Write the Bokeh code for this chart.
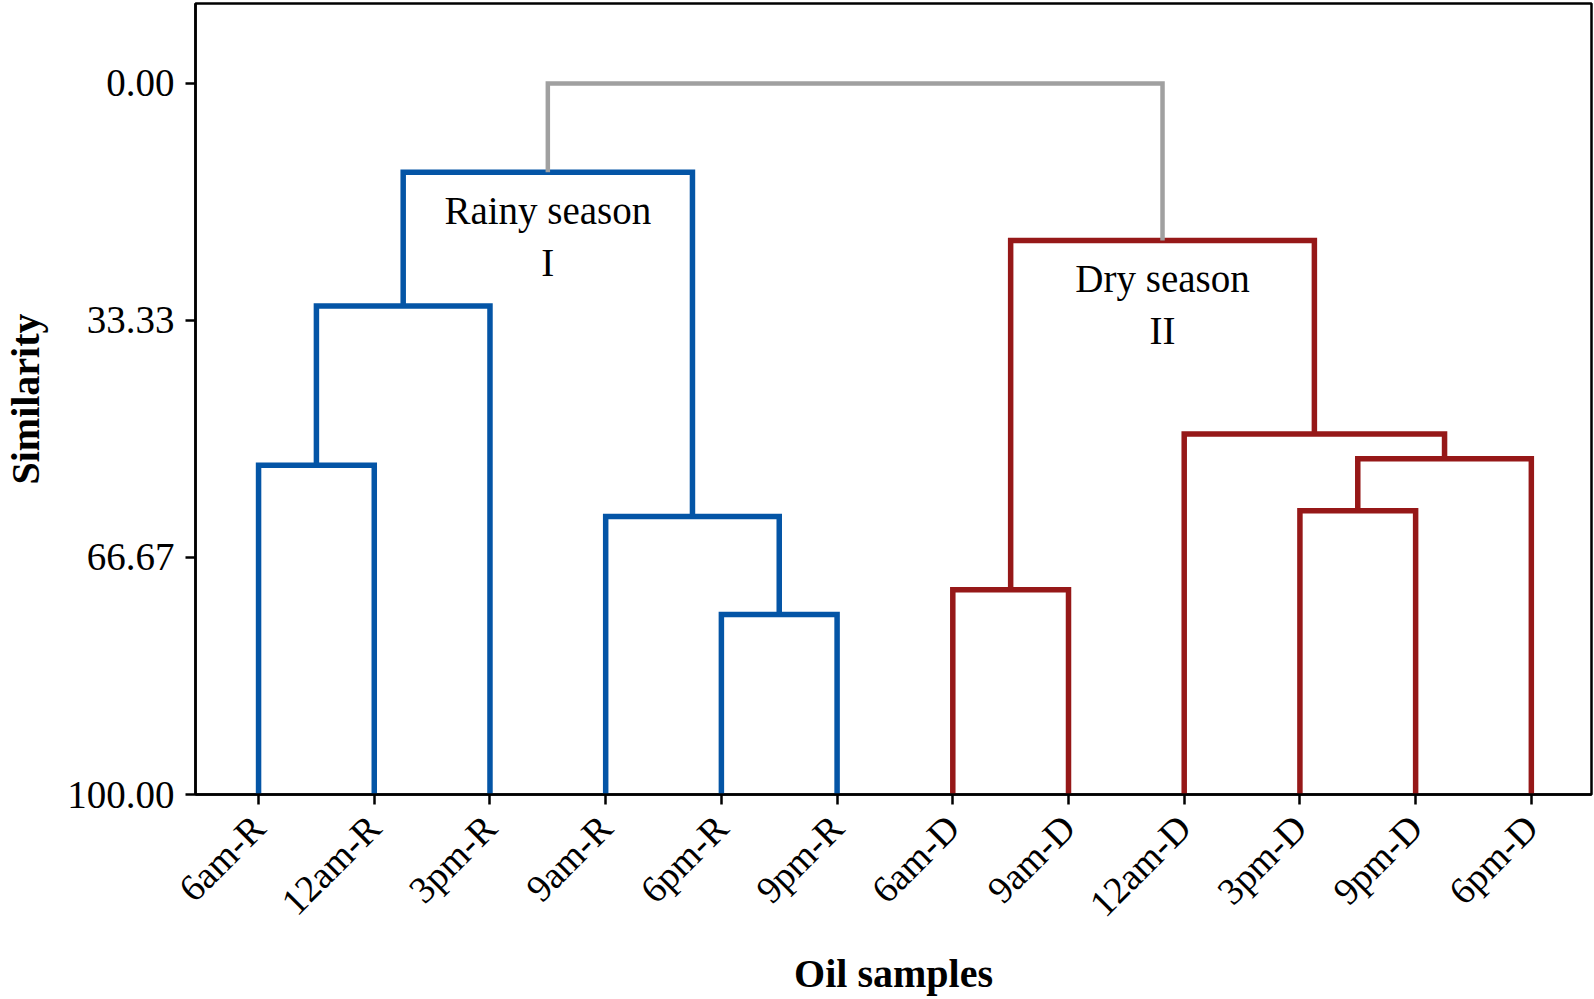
import math
from bokeh.plotting import figure
from bokeh.models import Range1d, FixedTicker, ColumnDataSource
from bokeh.core.properties import value
from bokeh.embed import file_html
from bokeh.resources import INLINE

# ---------------- data ----------------
samples = ["6am-R", "12am-R", "3pm-R", "9am-R", "6pm-R", "9pm-R",
           "6am-D", "9am-D", "12am-D", "3pm-D", "9pm-D", "6pm-D"]
# linkage: node ids 0..11 are leaves, 12.. are clusters in merge order
merge_left = [0, 12, 4, 3, 13, 6, 9, 18, 8, 17, 16]
merge_right = [1, 2, 5, 14, 15, 7, 10, 11, 19, 20, 21]
merge_height = [53.7, 31.3, 74.7, 60.9, 12.5, 71.2, 60.1, 52.8, 49.3, 22.1, 0.0]
merge_group = ["rainy"] * 5 + ["dry"] * 5 + ["root"]
y_ticks = [0, 33.33, 66.67, 100]
y_tick_labels = ["0.00", "33.33", "66.67", "100.00"]
cluster_names = ["Rainy season", "I", "Dry season", "II"]
cluster_nodes = [16, 16, 21, 21]
cluster_line = [0, 1, 0, 1]

# ---------------- build geometry from linkage ----------------
group_color = {"rainy": "#0455A6", "dry": "#961818", "root": "#A0A0A0"}
group_width = {"rainy": 5.5, "dry": 5.5, "root": 4.5}

n = len(samples)
node_x = {i: float(i) for i in range(n)}
node_h = {i: 100.0 for i in range(n)}
xs, ys, cols, wids = [], [], [], []
for k, (a, b, h, g) in enumerate(zip(merge_left, merge_right, merge_height, merge_group)):
    nid = n + k
    node_x[nid] = (node_x[a] + node_x[b]) / 2.0
    node_h[nid] = h
    xs.append([node_x[a], node_x[a], node_x[b], node_x[b]])
    ys.append([node_h[a], h, h, node_h[b]])
    cols.append(group_color[g])
    wids.append(group_width[g])

p = figure(width=1594, height=999,
           x_range=Range1d(-0.545, 11.52), y_range=Range1d(100, -11.24),
           output_backend="svg", toolbar_location=None,
           min_border_left=150, min_border_right=3,
           min_border_top=3, min_border_bottom=204)

p.multi_line(xs=xs, ys=ys, line_color=cols, line_width=wids,
             line_join="miter", line_cap="butt")

offsets = [38, 90]
txt = ColumnDataSource(dict(
    x=[node_x[c] for c in cluster_nodes],
    y=[node_h[c] for c in cluster_nodes],
    text=cluster_names,
    off=[offsets[l] for l in cluster_line],
))
p.text(x="x", y="y", text="text", y_offset="off", source=txt,
       text_font=value("Liberation Serif"), text_font_size=value("39px"),
       text_align="center", text_baseline="alphabetic", text_color="black")

# ---------------- styling ----------------
p.grid.visible = False
p.outline_line_color = "black"
p.outline_line_width = 2.5
p.background_fill_color = "white"
p.border_fill_color = "white"

for ax in (p.xaxis[0], p.yaxis[0]):
    ax.axis_line_color = "black"
    ax.axis_line_width = 2.5
    ax.major_tick_line_color = "black"
    ax.major_tick_line_width = 2.5
    ax.major_tick_out = 10
    ax.major_tick_in = 0
    ax.minor_tick_line_color = None
    ax.major_label_text_font = "Liberation Serif"
    ax.major_label_text_color = "black"
    ax.axis_label_text_font = "Liberation Serif"
    ax.axis_label_text_font_size = "40px"
    ax.axis_label_text_font_style = "bold"
    ax.axis_label_text_color = "black"

p.xaxis.ticker = FixedTicker(ticks=list(range(n)))
p.xaxis.major_label_overrides = {i: s for i, s in enumerate(samples)}
p.xaxis.major_label_orientation = math.pi / 4
p.xaxis.major_label_text_font_size = "38px"
p.xaxis.major_label_standoff = 17
p.xaxis.axis_label = "Oil samples"
p.xaxis.axis_label_standoff = 9

p.yaxis.ticker = FixedTicker(ticks=y_ticks)
p.yaxis.major_label_overrides = {t: l for t, l in zip(y_ticks, y_tick_labels)}
p.yaxis.major_label_text_font_size = "39px"
p.yaxis.major_label_standoff = 11
p.yaxis.axis_label = "Similarity"
p.yaxis.axis_label_standoff = 16

open("out.html", "w").write(file_html(p, INLINE))
